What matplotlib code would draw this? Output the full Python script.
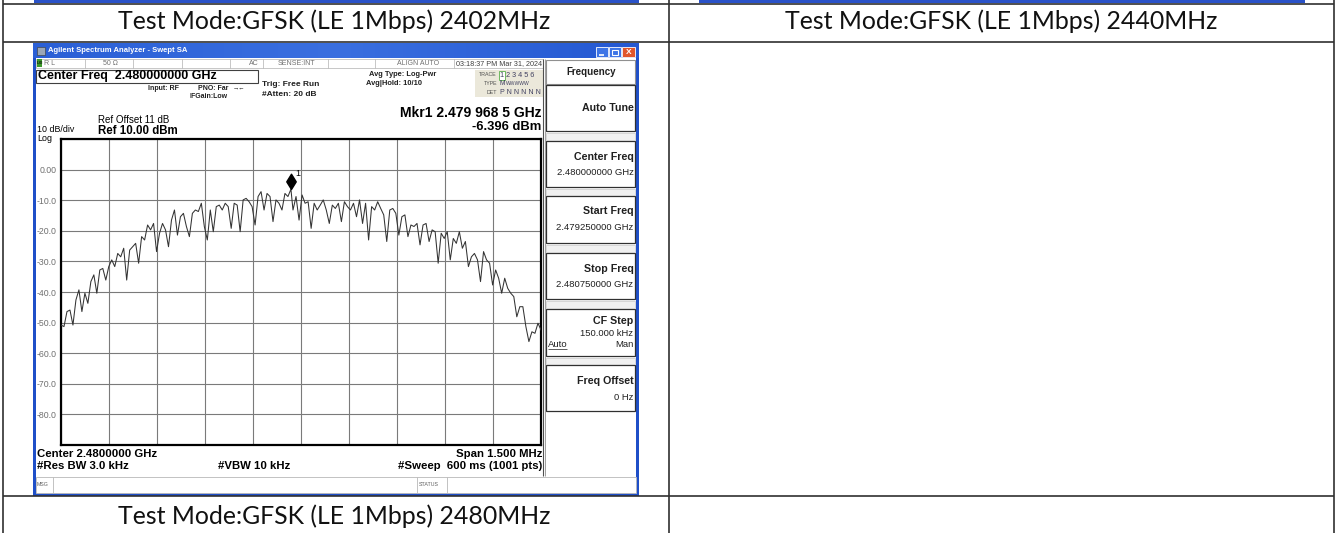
import numpy as np
import matplotlib
matplotlib.use("Agg")
import matplotlib.pyplot as plt
from matplotlib.patches import Rectangle
from matplotlib.path import Path

# ---------------- data ----------------
row_titles = ["Test Mode:GFSK (LE 1Mbps) 2402MHz",
              "Test Mode:GFSK (LE 1Mbps) 2440MHz",
              "Test Mode:GFSK (LE 1Mbps) 2480MHz"]
start_ghz = 2.479250
stop_ghz = 2.480750
ref_dbm = 10.0
bottom_dbm = -90.0
y_tick_values = [0, -10, -20, -30, -40, -50, -60, -70, -80]
y_tick_labels = ["0.00", "-10.0", "-20.0", "-30.0", "-40.0", "-50.0", "-60.0", "-70.0", "-80.0"]
marker_freq_ghz = 2.4799685
marker_dbm = -6.396
right_seg_start_ghz = 2.479975

trace_left_dbm = [
    -50.8, -51.3, -46.4, -45.9, -50.8, -42.6, -39.3, -46.4,
    -40.4, -43.7, -36.6, -34.4, -40.4, -32.8, -32.3, -36.1, -31.7, -29.5,
    -31.7, -27.4, -28.5, -25.7, -36.1, -26.3, -25.2, -24.1, -30.6, -21.9,
    -23.0, -18.1, -19.7, -17.6, -26.8, -20.8, -17.6, -19.7, -25.2, -16.5,
    -13.2, -21.4, -15.4, -14.3, -18.6, -21.9, -14.3, -13.2, -13.7, -11.0,
    -18.6, -23.0, -13.2, -20.3, -12.1, -11.6, -13.2, -11.0, -12.1, -19.2,
    -11.0, -11.6, -20.3, -9.9, -9.4, -10.5, -12.1, -18.1, -8.8, -7.2,
    -13.2, -7.8, -8.8, -17.0, -9.9, -11.0, -13.2, -7.8, -8.8, -6.4]
trace_right_dbm = [
    -13.2, -8.8, -16.5, -8.3, -11.0, -10.5, -19.2, -11.0, -13.2, -11.6,
    -9.9, -13.2, -17.6, -11.6, -12.7, -11.0, -17.0, -10.5, -12.1, -13.2,
    -11.0, -15.4, -9.9, -17.6, -11.0, -23.0, -12.1, -13.2, -10.5, -12.7,
    -14.8, -23.5, -13.2, -12.7, -14.3, -21.4, -15.4, -14.8, -21.9, -18.1,
    -18.6, -17.6, -24.6, -18.1, -17.6, -23.5, -19.7, -20.3, -30.6, -20.8,
    -22.5, -20.3, -29.5, -22.5, -24.1, -20.3, -25.7, -23.5, -31.7, -28.5,
    -27.4, -29.5, -36.6, -26.8, -29.5, -30.6, -37.7, -32.8, -35.5, -40.4,
    -35.5, -38.8, -40.4, -41.5, -48.1, -44.8, -44.8, -51.3, -56.2, -53.0,
    -53.5, -50.2, -52.4]

softkeys = [("Center Freq", "2.480000000 GHz"),
            ("Start Freq", "2.479250000 GHz"),
            ("Stop Freq", "2.480750000 GHz")]

# ---------------- figure ----------------
W, H = 1337, 533
fig = plt.figure(figsize=(W / 100, H / 100), dpi=100)
fig.patch.set_facecolor("white")
bg = fig.add_axes([0, 0, 1, 1])
bg.set_xlim(0, W)
bg.set_ylim(H, 0)
bg.axis("off")

SANS = ["Liberation Sans", "DejaVu Sans"]
TITLEF = ["Lato", "DejaVu Sans"]


def rect(x0, y0, x1, y1, fc="none", ec="none", lw=0.8, z=2):
    bg.add_patch(Rectangle((x0, y0), x1 - x0, y1 - y0, facecolor=fc,
                           edgecolor=ec, linewidth=lw, zorder=z))


def hline(y, x0, x1, c="#303030", lw=1.2, z=3):
    bg.plot([x0, x1], [y, y], color=c, lw=lw, zorder=z, solid_capstyle="butt")


def vline(x, y0, y1, c="#303030", lw=1.2, z=3):
    bg.plot([x, x], [y0, y1], color=c, lw=lw, zorder=z, solid_capstyle="butt")


def txt(x, y, s, size=6, weight="normal", ha="left", color="black", fam=SANS, **kw):
    bg.text(x, y, s, fontsize=size, fontweight=weight, ha=ha, va="center",
            color=color, family=fam, zorder=6, **kw)


# ---------- table ----------
rect(34, 0, 639, 2.5, fc="#2a52c8", z=2)
rect(699, 0, 1305, 2.5, fc="#2a52c8", z=2)
for y in (3.5, 42, 496):
    hline(y, 3, 1334)
for x in (3, 668.5, 1334):
    vline(x, 0, 533)
TS = 17.9
txt(334, 21, row_titles[0], size=TS, ha="center", fam=TITLEF, color="#111111")
txt(1001, 21, row_titles[1], size=TS, ha="center", fam=TITLEF, color="#111111")
txt(334, 516, row_titles[2], size=TS, ha="center", fam=TITLEF, color="#111111")

# ---------- analyzer window ----------
WX0, WX1, WY0, WY1 = 33, 639, 43, 496
rect(WX0, WY0, WX1, WY1, fc="#1f4fc8", z=1)
rect(36, 58, 636, 493, fc="white", z=1.5)
grad = np.linspace(0, 1, 200).reshape(1, -1)
bg.imshow(grad, extent=(WX0, WX1, WY0 + 15, WY0), cmap=matplotlib.colors.LinearSegmentedColormap.from_list(
    "tb", ["#2a5fd6", "#3a6fe0", "#2458d2"]), aspect="auto", zorder=1.6)
bg.set_xlim(0, W)
bg.set_ylim(H, 0)
rect(37, 46.5, 45, 54.5, fc="#9aa6b6", ec="#404850", lw=0.5, z=3)
txt(48.5, 50.5, "Agilent Spectrum Analyzer - Swept SA", size=5.5, weight="bold", color="white")
rect(596, 47, 608, 57, fc="#3d74e6", ec="white", lw=0.6, z=3)
rect(609, 47, 621, 57, fc="#3d74e6", ec="white", lw=0.6, z=3)
rect(622, 47, 635, 57, fc="#e0552c", ec="white", lw=0.6, z=3)
hline(54.5, 599, 604, c="white", lw=1.2, z=4)
rect(612, 49.5, 618, 55, ec="white", lw=0.8, z=4)
txt(628.5, 52, "X", size=6, weight="bold", color="white", ha="center")

# status row
rect(36, 58.5, 543, 68, fc="white", ec="#b0b0b0", lw=0.5, z=2)
rect(36.5, 59, 41.5, 67, fc="#3c9a2a", z=3)
txt(37, 63.3, "LXI", size=3, weight="bold", color="#102010")
for x in (85, 133, 182, 230, 263, 328, 375, 454):
    vline(x, 58.5, 68, c="#b0b0b0", lw=0.5)
st_c = "#707070"
txt(44, 63.3, "R L", size=5, color=st_c)
txt(103, 63.3, "50 Ω", size=5, color=st_c)
txt(259, 63.3, "AC", size=5, color=st_c, ha="right")
txt(296, 63.3, "SENSE:INT", size=5, color=st_c, ha="center")
txt(418, 63.3, "ALIGN AUTO", size=5, color=st_c, ha="center")
txt(456.5, 63.3, "03:18:37 PM Mar 31, 2024", size=5.2, color="#404040")

# center freq box and setup info
rect(35.5, 70, 258, 82.5, ec="#404040", lw=0.8, z=3)
txt(38, 76.3, "Center Freq  2.480000000 GHz", size=9, weight="bold")
txt(179, 88, "Input: RF", size=5, weight="bold", ha="right", color="#202020")
txt(198, 88, "PNO: Far", size=5, weight="bold", color="#202020")
txt(233, 88, "→←", size=4.5, color="#202020")
txt(189, 97, "IFGain:Low", size=5, weight="bold", color="#202020")
txt(262, 85, "Trig: Free Run", size=6, weight="bold", color="#202020")
txt(262, 94.5, "#Atten: 20 dB", size=6, weight="bold", color="#202020")
txt(369, 74.5, "Avg Type: Log-Pwr", size=5.4, weight="bold", color="#202020")
txt(366, 83.5, "Avg|Hold: 10/10", size=5.4, weight="bold", color="#202020")

# trace info box
rect(475, 70, 543, 97, fc="#ebe8da", z=2)
rect(498.5, 71, 505, 79.5, fc="white", ec="#5ab04a", lw=0.6, z=3)
txt(497, 75, "TRACE", size=3.8, ha="right", color="#505050")
txt(497, 83.5, "TYPE", size=3.8, ha="right", color="#505050")
txt(497, 92, "DET", size=3.8, ha="right", color="#505050")
txt(499.5, 75.3, "1 2 3 4 5 6", size=5.2, color="#404060")
txt(499.5, 83.5, "M", size=4.8, color="#404060")
txt(505.5, 83.5, "WWWWW", size=3.6, color="#404060")
txt(499.5, 92, "P N N N N N", size=5, color="#404060")

# marker readout and reference
txt(541, 113, "Mkr1 2.479 968 5 GHz", size=10, weight="bold", ha="right")
txt(541, 127, "-6.396 dBm", size=9.4, ha="right", weight="bold")
txt(98, 120, "Ref Offset 11 dB", size=7)
txt(98, 130.5, "Ref 10.00 dBm", size=8.3, weight="bold")
txt(37, 129.8, "10 dB/div", size=6.4)
txt(37, 138.6, "Log", size=6.4)

# bottom annotations
BS = 8.2
txt(37, 454, "Center 2.4800000 GHz", size=BS, weight="bold")
txt(37, 466, "#Res BW 3.0 kHz", size=BS, weight="bold")
txt(218, 466, "#VBW 10 kHz", size=BS, weight="bold")
txt(542, 454, "Span 1.500 MHz", size=BS, weight="bold", ha="right")
txt(542, 466, "#Sweep  600 ms (1001 pts)", size=BS, weight="bold", ha="right")

# message bar
rect(36, 477, 636, 492.5, fc="white", ec="#b8b8b8", lw=0.6, z=2)
for x in (53, 417, 447):
    vline(x, 477, 492.5, c="#b8b8b8", lw=0.6)
txt(37, 484.5, "MSG", size=3.8, color="#606060")
txt(418.5, 484.5, "STATUS", size=3.8, color="#606060")

# softkey panel
vline(542.5, 58.5, 476, c="#505050", lw=0.8)
vline(544.5, 58.5, 476, c="#909090", lw=0.6)
rect(545.5, 60, 635, 84, fc="white", ec="#909090", lw=0.8, z=2)
txt(591, 72, "Frequency", size=7, weight="bold", ha="center", color="#202020")
buttons_y = [(84.5, 131), (141, 187), (196, 243), (253, 299), (309, 356), (365, 411)]
for (y0, y1) in buttons_y:
    rect(545.5, y0, 635, y1, fc="white", ec="#303030", lw=0.9, z=2)
for (a, b) in zip(buttons_y[:-1], buttons_y[1:]):
    rect(545.5, a[1] + 1.5, 635, b[0] - 1.5, fc="#f0f0f0", ec="#c8c8c8", lw=0.5, z=2)
KS, VS = 7.7, 6.8
txt(633.5, 108, "Auto Tune", size=KS, weight="bold", ha="right", color="#202020")
for (lab, val), (y0, y1) in zip(softkeys, buttons_y[1:4]):
    txt(633.5, y0 + 15.5, lab, size=KS, weight="bold", ha="right", color="#202020")
    txt(633.5, y0 + 31.5, val, size=VS, ha="right", color="#202020")
txt(633.5, 321, "CF Step", size=KS, weight="bold", ha="right", color="#202020")
txt(633.5, 333, "150.000 kHz", size=VS, ha="right", color="#202020")
txt(547.5, 344.5, "Auto", size=VS, color="#202020")
hline(349, 547.5, 567, c="#202020", lw=0.5, z=5)
txt(633.5, 344.5, "Man", size=VS, ha="right", color="#202020")
txt(633.5, 381.5, "Freq Offset", size=KS, weight="bold", ha="right", color="#202020")
txt(633.5, 397, "0 Hz", size=VS, ha="right", color="#202020")

# ---------- spectrum plot ----------
PX0, PY0, PX1, PY1 = 61, 139, 541, 445
ax = fig.add_axes([PX0 / W, 1 - PY1 / H, (PX1 - PX0) / W, (PY1 - PY0) / H])
ax.set_facecolor("white")
ax.set_xlim(start_ghz, stop_ghz)
ax.set_ylim(bottom_dbm, ref_dbm)
ax.set_xticks(np.linspace(start_ghz, stop_ghz, 11))
ax.set_xticklabels([])
yt = np.arange(bottom_dbm, ref_dbm + 1, 10)
ax.set_yticks(yt)
ax.set_yticklabels([y_tick_labels[y_tick_values.index(int(v))] if int(v) in y_tick_values else ""
                    for v in yt], fontsize=6.3, color="#707070", family=SANS)
ax.tick_params(length=0, pad=3.5)
ax.grid(True, color="#7a7a7a", lw=0.8)
for sp in ax.spines.values():
    sp.set_linewidth(1.6)
    sp.set_color("black")

f_left = np.linspace(start_ghz, marker_freq_ghz, len(trace_left_dbm))
f_right = np.linspace(right_seg_start_ghz, stop_ghz, len(trace_right_dbm))
freqs = np.concatenate([f_left, f_right])
levels = np.array(trace_left_dbm + trace_right_dbm)
ax.plot(freqs, levels, color="#333333", lw=0.75, zorder=3)

diamond = Path([(0, 0), (0.62, 1), (0, 2), (-0.62, 1), (0, 0)],
               [Path.MOVETO, Path.LINETO, Path.LINETO, Path.LINETO, Path.CLOSEPOLY])
ax.plot([marker_freq_ghz], [marker_dbm], marker=diamond, markersize=22,
        color="black", linestyle="none", zorder=4)
ax.annotate("1", (marker_freq_ghz, marker_dbm), xytext=(3.5, 11.5),
            textcoords="offset points", fontsize=6.5, family=SANS, va="center")

fig.savefig("out.png", dpi=100, facecolor="white")
